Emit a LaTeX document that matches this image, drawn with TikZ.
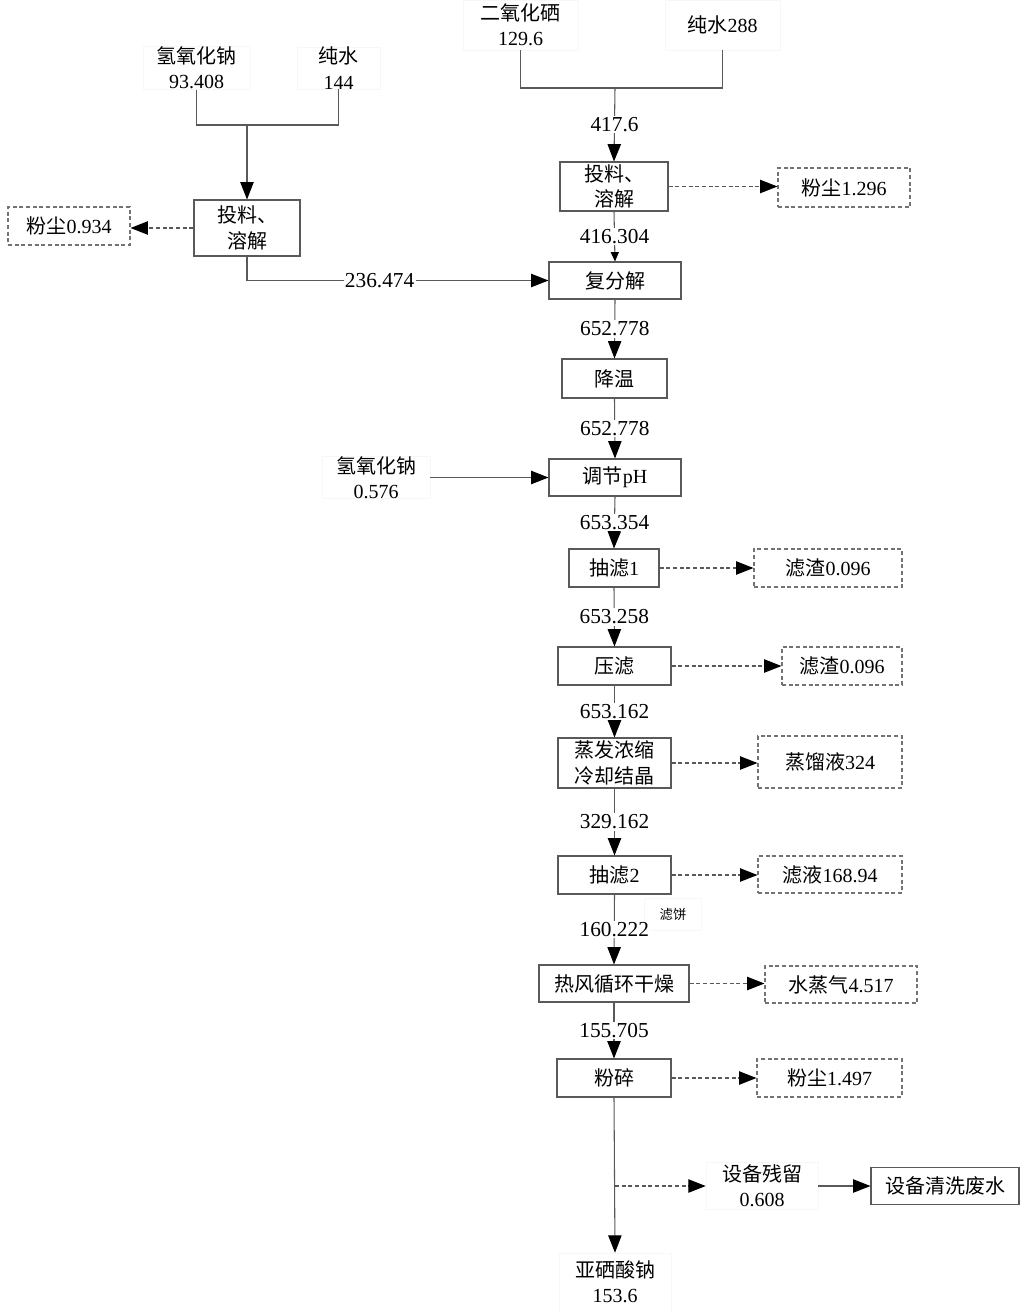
\documentclass[tikz,border=0pt]{standalone}
\usepackage{fontspec}
\setmainfont{Liberation Serif}
\newfontfamily\cjk{Noto Sans CJK SC}
\newcommand\hz[1]{{\cjk #1}}
\usetikzlibrary{arrows.meta}
\begin{document}
\begin{tikzpicture}[x=0.75pt,y=-0.75pt,
  font=\fontsize{15}{19}\selectfont,
  sz/.style 2 args={minimum width=#1*0.75pt, minimum height=#2*0.75pt},
  box/.style={draw=black!65, line width=0.8pt, align=center, inner sep=0pt, fill=white},
  dbox/.style={box, draw=black!55, dashed, dash pattern=on 3pt off 2pt},
  lab/.style={draw=black!3, line width=0.4pt, align=center, inner sep=0pt, fill=white},
  ln/.style={draw=black!65, line width=0.8pt},
  arr/.style={ln, -{Triangle[length=13pt, width=10pt, black]}},
  sarr/.style={ln, -{Triangle[length=7pt, width=6pt, black]}},
  darr/.style={ln, dashed, dash pattern=on 3pt off 2pt, -{Triangle[length=13pt, width=10pt, black]}},
  num/.style={fill=white, inner sep=1pt, font=\fontsize{16}{19}\selectfont}]
\useasboundingbox (0,0) rectangle (1020,1311);

% top labels
\node[lab, sz={115}{50}] (se) at (520.5,25) {\hz{二氧化硒}\\129.6};
\node[lab, sz={115}{50}] (w288) at (722.5,25) {\hz{纯水}288};
\node[lab, sz={107}{40}] (naoh) at (196.5,68) {\hz{氢氧化钠}\\93.408};
\node[lab, sz={83}{40}] (w144) at (338.5,68) {\hz{纯水}\\144};
\node[lab, sz={108}{42}] (naoh2) at (376,477.5) {\hz{氢氧化钠}\\0.576};
\node[lab, sz={57}{32}, font=\fontsize{10}{12}\selectfont] (lb) at (673,914) {\hz{滤饼}};
\node[lab, sz={112}{47}] (res) at (762,1186) {\hz{设备残留}\\0.608};
\node[lab, sz={112}{58}] (prod) at (615,1282) {\hz{亚硒酸钠}\\153.6};

% process boxes
\node[box, sz={108}{49}] (tl1) at (614,186.5) {\hz{投料、}\\\hz{溶解}};
\node[box, sz={132}{37}] (ff) at (615,280.5) {\hz{复分解}};
\node[box, sz={105}{39}] (jw) at (614.5,378.5) {\hz{降温}};
\node[box, sz={132}{37}] (ph) at (615,477.5) {\hz{调节}pH};
\node[box, sz={90}{38}] (cl1) at (614,568) {\hz{抽滤}1};
\node[box, sz={113}{38}] (yl) at (614.5,666) {\hz{压滤}};
\node[box, sz={113}{50}] (zf) at (614.5,763) {\hz{蒸发浓缩}\\\hz{冷却结晶}};
\node[box, sz={113}{38}] (cl2) at (614.5,875) {\hz{抽滤}2};
\node[box, sz={150}{37}] (gz) at (614,983.5) {\hz{热风循环干燥}};
\node[box, sz={114}{38}] (fs) at (614,1078) {\hz{粉碎}};
\node[box, sz={106}{56}] (tl2) at (247,228) {\hz{投料、}\\\hz{溶解}};
\node[box, sz={148}{37}] (qx) at (945,1186) {\hz{设备清洗废水}};

% dashed output boxes
\node[dbox, sz={132}{39}] (d1) at (844,187.5) {\hz{粉尘}1.296};
\node[dbox, sz={122}{38}] (d2) at (69,226) {\hz{粉尘}0.934};
\node[dbox, sz={148}{38}] (z1) at (828,568) {\hz{滤渣}0.096};
\node[dbox, sz={120}{38}] (z2) at (842,666) {\hz{滤渣}0.096};
\node[dbox, sz={144}{52}] (zl) at (830,762) {\hz{蒸馏液}324};
\node[dbox, sz={144}{37}] (ly) at (830,874.5) {\hz{滤液}168.94};
\node[dbox, sz={152}{37}] (sq) at (841,984.5) {\hz{水蒸气}4.517};
\node[dbox, sz={145}{38}] (d3) at (829.5,1078) {\hz{粉尘}1.497};

% top right merge
\coordinate (j1) at (615,88);
\draw[ln] (se.south) |- (j1) -| (w288.south);
\draw[arr] (j1) -- node[num]{417.6} (tl1.north);
% top left merge
\coordinate (j2) at (247,125);
\draw[ln] (naoh.south) |- (j2) -| (w144.south);
\draw[arr] (j2) -- (tl2.north);

\draw[darr] (tl1.east) -- (tl1.east -| d1.west);
\draw[darr] (tl2.west) -- (tl2.west -| d2.east);
\draw[sarr] (tl1.south) -- node[num]{416.304} (ff.north);
\draw[arr] (tl2.south) |- node[num, pos=0.72]{236.474} (ff.west);
\draw[arr] (ff.south) -- node[num]{652.778} (jw.north);
\draw[arr] (jw.south) -- node[num]{652.778} (ph.north);
\draw[arr] (naoh2.east) -- (ph.west);
\draw[arr] (ph.south) -- node[num]{653.354} (cl1.north);
\draw[darr] (cl1.east) -- (z1.west);
\draw[arr] (cl1.south) -- node[num]{653.258} (yl.north);
\draw[darr] (yl.east) -- (z2.west);
\draw[arr] (yl.south) -- node[num]{653.162} (zf.north);
\draw[darr] (zf.east) -- (zf.east -| zl.west);
\draw[arr] (zf.south) -- node[num]{329.162} (cl2.north);
\draw[darr] (cl2.east) -- (cl2.east -| ly.west);
\draw[arr] (cl2.south) -- node[num]{160.222} (gz.north);
\draw[darr] (gz.east) -- (gz.east -| sq.west);
\draw[arr] (gz.south) -- node[num]{155.705} (fs.north);
\draw[darr] (fs.east) -- (d3.west);
\coordinate (j3) at (615,1186);
\draw[arr] (fs.south) -- (prod.north);
\draw[darr] (j3) -- (res.west);
\draw[arr] (res.east) -- (qx.west);
\end{tikzpicture}
\end{document}
